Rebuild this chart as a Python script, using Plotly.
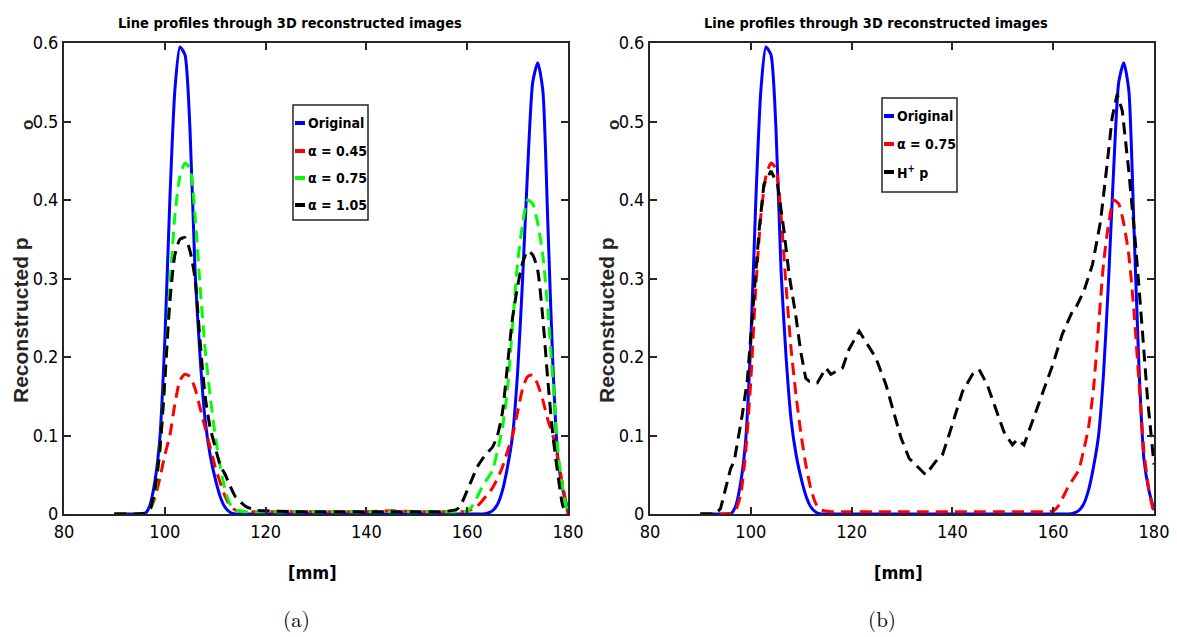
import plotly.graph_objects as go

# ---------------- data ----------------
x_mm = [90, 92, 94, 96, 97, 98, 99, 100, 101, 102, 103, 104, 105, 106, 107, 108, 109, 110,
        111, 112, 113, 114, 116, 118, 120, 125, 130, 135, 140, 145, 150, 155, 158, 159, 160,
        161, 162, 163, 164, 165, 166, 167, 168, 169, 170, 171, 172, 173, 174, 175, 176, 177,
        178, 179, 180]

original = [0, 0, 0, 0, 0.01, 0.04, 0.095, 0.22, 0.40, 0.54, 0.595, 0.585, 0.49, 0.31, 0.20,
            0.12, 0.075, 0.045, 0.022, 0.008, 0.002, 0, 0, 0, 0, 0, 0, 0, 0, 0, 0, 0, 0, 0, 0,
            0, 0, 0, 0.001, 0.004, 0.012, 0.03, 0.06, 0.10, 0.18, 0.30, 0.44, 0.55, 0.575, 0.54,
            0.37, 0.19, 0.07, 0.03, 0.005]

alpha_045 = [0, 0, 0, 0.001, 0.005, 0.02, 0.045, 0.075, 0.10, 0.14, 0.17, 0.178, 0.175, 0.16,
             0.135, 0.11, 0.085, 0.06, 0.04, 0.022, 0.01, 0.005, 0.003, 0.003, 0.003, 0.003,
             0.003, 0.003, 0.003, 0.004, 0.003, 0.003, 0.003, 0.003, 0.004, 0.006, 0.01, 0.017,
             0.025, 0.033, 0.045, 0.06, 0.08, 0.10, 0.13, 0.16, 0.175, 0.177, 0.165, 0.145, 0.12,
             0.10, 0.07, 0.035, 0.0]

alpha_075 = [0, 0, 0, 0.001, 0.005, 0.025, 0.08, 0.17, 0.29, 0.38, 0.43, 0.447, 0.44, 0.38,
             0.29, 0.21, 0.15, 0.10, 0.06, 0.03, 0.012, 0.005, 0.003, 0.003, 0.003, 0.003,
             0.003, 0.003, 0.003, 0.003, 0.003, 0.003, 0.003, 0.003, 0.004, 0.01, 0.022, 0.035,
             0.045, 0.055, 0.08, 0.11, 0.16, 0.24, 0.32, 0.37, 0.40, 0.395, 0.37, 0.33, 0.26,
             0.17, 0.08, 0.03, 0.0]

alpha_105 = [0, 0, 0, 0.001, 0.005, 0.03, 0.08, 0.17, 0.27, 0.33, 0.35, 0.352, 0.335, 0.30,
             0.22, 0.15, 0.11, 0.085, 0.062, 0.05, 0.035, 0.022, 0.01, 0.005, 0.004, 0.003,
             0.003, 0.003, 0.003, 0.003, 0.003, 0.003, 0.006, 0.015, 0.03, 0.045, 0.06, 0.07,
             0.078, 0.085, 0.10, 0.13, 0.19, 0.25, 0.29, 0.32, 0.335, 0.33, 0.31, 0.25, 0.17,
             0.10, 0.05, 0.01, 0.0]

x_hp = [90, 93, 94, 96, 96.7, 98.3, 99.3, 100.3, 101.7, 102.6, 104.0, 105.3, 106.6, 107.6,
        108.9, 109.9, 110.9, 111.6, 113.2, 114.9, 115.9, 118.2, 119.5, 121.5, 123.5, 124.8,
        126.8, 128.1, 129.8, 131.4, 133.4, 134.7, 136.7, 138.0, 139.3, 140.7, 142.0, 144.0,
        145.3, 146.9, 148.6, 150.2, 151.9, 152.9, 154.2, 155.9, 157.9, 159.9, 161.8, 163.8,
        164.5, 166.1, 167.8, 169.4, 170.7, 171.7, 172.7, 173.7, 175.0, 176.4, 177.7, 178.7, 180]
h_plus_p = [0, 0, 0.007, 0.058, 0.067, 0.126, 0.17, 0.254, 0.365, 0.42, 0.437, 0.42, 0.36,
            0.305, 0.254, 0.207, 0.173, 0.169, 0.167, 0.186, 0.178, 0.186, 0.21, 0.233, 0.212,
            0.199, 0.165, 0.135, 0.097, 0.071, 0.058, 0.05, 0.067, 0.075, 0.10, 0.13, 0.156,
            0.178, 0.184, 0.165, 0.135, 0.105, 0.088, 0.095, 0.088, 0.118, 0.152, 0.19, 0.229,
            0.258, 0.263, 0.284, 0.318, 0.373, 0.446, 0.505, 0.535, 0.514, 0.437, 0.339, 0.233,
            0.148, 0.063]

x_ticks = [80, 100, 120, 140, 160, 180]
y_ticks = [0, 0.1, 0.2, 0.3, 0.4, 0.5, 0.6]
y_tick_labels = ["0", "0.1", "0.2", "0.3", "0.4", "0.5", "0.6"]

title_text = "Line profiles through 3D reconstructed images"
x_title = "[mm]"
y_title = "Reconstructed p"
legend_a = ["Original", "α = 0.45", "α = 0.75", "α = 1.05"]
legend_b = ["Original", "α = 0.75", "H<sup>+</sup> p"]
captions = ["(a)", "(b)"]

# ---------------- styling ----------------
W, H = 1177, 637
BLUE, RED, GREEN, BLACK = "#0000ff", "#ff0000", "#00ff00", "#000000"
NARROW = "Liberation Sans Narrow, DejaVu Sans Condensed, Arial Narrow, sans-serif"
DASH = "12px,7px"


def px(x):
    return x / W


def py(y):
    return 1 - y / H


fig = go.Figure()


def add_line(x, y, color, dash, xa, ya, shape="spline"):
    fig.add_trace(go.Scatter(
        x=x, y=y, mode="lines", xaxis=xa, yaxis=ya, showlegend=False,
        line=dict(color=color, width=3, dash=dash, shape=shape,
                  smoothing=0.6 if shape == "spline" else None),
        hoverinfo="x+y"))


# panel (a)
add_line(x_mm, original, BLUE, "solid", "x", "y")
add_line(x_mm, alpha_045, RED, DASH, "x", "y")
add_line(x_mm, alpha_075, GREEN, DASH, "x", "y")
add_line(x_mm, alpha_105, BLACK, DASH, "x", "y")
# panel (b)
add_line(x_mm, original, BLUE, "solid", "x2", "y2")
add_line(x_mm, alpha_075, RED, DASH, "x2", "y2")
add_line(x_hp, h_plus_p, BLACK, DASH, "x2", "y2", shape="linear")

axis_common = dict(showline=True, linewidth=2, linecolor="#262626", mirror="ticks",
                   ticks="inside", ticklen=7, tickwidth=1.5, tickcolor="#262626",
                   showgrid=False, zeroline=False, automargin=False,
                   tickfont=dict(family=NARROW, size=18, color="#000000"))

panels = [(64, 568, "x", "y"), (650, 1154, "x2", "y2")]
layout_axes = {}
for i, (l, r, xa, ya) in enumerate(panels):
    xkey = "xaxis" if i == 0 else "xaxis2"
    ykey = "yaxis" if i == 0 else "yaxis2"
    layout_axes[xkey] = dict(axis_common, domain=[px(l), px(r)], anchor=ya,
                             range=[80, 180], tickvals=x_ticks)
    layout_axes[ykey] = dict(axis_common, domain=[py(514), py(43)], anchor=xa,
                             range=[0, 0.6], tickvals=y_ticks, ticktext=y_tick_labels)

fig.update_layout(width=W, height=H, margin=dict(l=0, r=0, t=0, b=0),
                  paper_bgcolor="white", plot_bgcolor="white", showlegend=False,
                  **layout_axes)

ann = []
shapes = []
for i, (l, r, xa, ya) in enumerate(panels):
    cx = (l + r) / 2
    ann.append(dict(text="<b>" + title_text + "</b>", x=px(cx - 26), y=py(23), xref="paper",
                    yref="paper", showarrow=False,
                    font=dict(family=NARROW, size=14.5, color="#000"),
                    xanchor="center", yanchor="middle"))
    ann.append(dict(text="<b>" + x_title + "</b>", x=px(cx - 4), y=py(572), xref="paper",
                    yref="paper", showarrow=False,
                    font=dict(family=NARROW, size=18, color="#000"),
                    xanchor="center", yanchor="middle"))
    ann.append(dict(text=captions[i], x=px(cx - 20), y=py(618), xref="paper", yref="paper",
                    showarrow=False,
                    font=dict(family="Latin Modern Roman, DejaVu Serif, serif", size=21,
                              color="#000"),
                    xanchor="center", yanchor="middle"))
    left = l - 44
    ann.append(dict(text="<b>" + y_title + "</b>", x=px(left), y=py(320), xref="paper",
                    yref="paper", showarrow=False, textangle=-90,
                    font=dict(family="Liberation Sans, Arial, sans-serif", size=21,
                              color="#262626"),
                    xanchor="center", yanchor="middle"))
    ann.append(dict(text="<b>o</b>", x=px(left + 7), y=py(125), xref="paper",
                    yref="paper", showarrow=False, textangle=-90,
                    font=dict(family="Liberation Sans, Arial, sans-serif", size=17,
                              color="#262626"),
                    xanchor="center", yanchor="middle"))


def add_legend(x0, x1, y0, y1, rows, labels, colors):
    shapes.append(dict(type="rect", xref="paper", yref="paper", x0=px(x0), x1=px(x1),
                       y0=py(y1), y1=py(y0), line=dict(color="#262626", width=1.5),
                       fillcolor="white", layer="above"))
    for yy, lab, col in zip(rows, labels, colors):
        shapes.append(dict(type="line", xref="paper", yref="paper", x0=px(x0 + 2),
                           x1=px(x0 + 12), y0=py(yy), y1=py(yy),
                           line=dict(color=col, width=4), layer="above"))
        ann.append(dict(text="<b>" + lab + "</b>", x=px(x0 + 13), y=py(yy), xref="paper",
                        yref="paper", showarrow=False, xanchor="left", yanchor="middle",
                        font=dict(family=NARROW, size=14, color="#000")))


add_legend(293, 368, 105, 220, [123, 151, 178, 205], legend_a, [BLUE, RED, GREEN, BLACK])
add_legend(882, 957, 98, 192, [116, 144, 172], legend_b, [BLUE, RED, BLACK])

fig.update_layout(annotations=ann, shapes=shapes)
fig.write_html("out.html", config={"displayModeBar": False},
               post_script="document.body.style.margin='0px';"
                           "document.body.style.overflow='hidden';")
